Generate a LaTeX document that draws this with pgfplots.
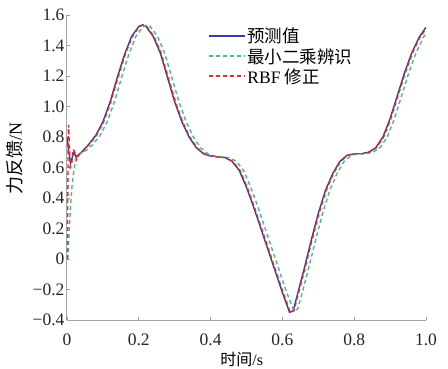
\documentclass[border=0pt]{standalone}
\usepackage{pgfplots}
\pgfplotsset{compat=1.18}
\usepackage{fontspec}
\setmainfont{Liberation Serif}
\newfontfamily\cjk{Noto Sans CJK SC}
\definecolor{predblue}{RGB}{50,60,175}
\definecolor{lsgreen}{RGB}{70,190,130}
\definecolor{rbfred}{RGB}{235,40,40}
\begin{document}
\begin{tikzpicture}
\useasboundingbox (-67pt,-48pt) rectangle (381pt,320pt);
\begin{axis}[
  at={(0pt,0pt)}, anchor=south west,
  scale only axis, width=359pt, height=305pt,
  xmin=0, xmax=1, ymin=-0.4, ymax=1.6,
  axis x line*=bottom, axis y line*=left,
  axis line style={draw=gray!70, line width=1pt},
  tick style={draw=gray!80, line width=0.6pt},
  major tick length=3pt, tick align=inside,
  xtick={0,0.2,0.4,0.6,0.8,1.0},
  xticklabels={0,0.2,0.4,0.6,0.8,1.0},
  ytick={-0.4,-0.2,0,0.2,0.4,0.6,0.8,1.0,1.2,1.4,1.6},
  yticklabels={−0.4,−0.2,0,0.2,0.4,0.6,0.8,1.0,1.2,1.4,1.6},
  ticklabel style={font=\fontsize{17.5}{18}\selectfont, text=black!85},
  xticklabel style={yshift=-10pt},
  yticklabel style={xshift=1pt},
  /pgf/number format/assume math mode=true,
  every axis x label/.style={at={(axis description cs:0.487,-0.13)}, anchor=center},
  every axis y label/.style={at={(axis description cs:-0.145,0.53)}, anchor=center, rotate=90},
  xlabel={\fontsize{16}{17}\selectfont{\cjk 时间}/s},
  ylabel={\fontsize{18}{19}\selectfont{\cjk 力反馈}/N},
  legend style={at={(axis description cs:0.392,0.962)}, anchor=north west, fill=none,
    font=\fontsize{17.5}{18}\selectfont, inner sep=0pt, row sep=1pt,
    nodes={inner sep=1.5pt}},
  legend style={draw=none},
  legend cell align=left,
  legend image code/.code={\path[draw, #1, line width=2pt] (0pt,0.3pt) -- (36pt,0.3pt);},
]
\addplot[predblue, line width=1.4pt] coordinates {
(0.000,0.80) (0.005,0.70) (0.010,0.63) (0.015,0.67) (0.020,0.70) (0.025,0.67) (0.030,0.68)
(0.040,0.70) (0.060,0.75) (0.080,0.81) (0.100,0.90) (0.120,1.03) (0.140,1.19) (0.160,1.34)
(0.180,1.46) (0.200,1.525) (0.210,1.535) (0.220,1.525) (0.240,1.46) (0.260,1.35) (0.280,1.19)
(0.300,1.03) (0.320,0.90) (0.340,0.80) (0.360,0.73) (0.380,0.69) (0.400,0.675) (0.420,0.67)
(0.440,0.665) (0.460,0.64) (0.480,0.58) (0.500,0.47) (0.520,0.34) (0.540,0.20) (0.560,0.06)
(0.580,-0.08) (0.600,-0.22) (0.620,-0.35) (0.630,-0.34) (0.640,-0.25) (0.660,-0.07) (0.680,0.12)
(0.700,0.30) (0.720,0.45) (0.740,0.56) (0.760,0.64) (0.780,0.68) (0.800,0.69) (0.820,0.69)
(0.840,0.70) (0.860,0.73) (0.880,0.80) (0.900,0.92) (0.920,1.07) (0.940,1.22) (0.960,1.35)
(0.980,1.45) (1.000,1.52)
};
\addlegendentry{{\cjk 预测值}}
\addplot[lsgreen, line width=1.4pt, dash pattern=on 4pt off 3pt] coordinates {
(0.002,0.00) (0.006,0.18) (0.010,0.35) (0.014,0.48) (0.018,0.56) (0.022,0.62) (0.027,0.66)
(0.032,0.68) (0.042,0.70) (0.052,0.71) (0.072,0.75) (0.092,0.81) (0.112,0.90) (0.132,1.03)
(0.152,1.19) (0.172,1.34) (0.192,1.46) (0.212,1.525) (0.222,1.535) (0.232,1.525) (0.252,1.46)
(0.272,1.35) (0.292,1.19) (0.312,1.03) (0.332,0.90) (0.352,0.80) (0.372,0.73) (0.392,0.69)
(0.412,0.675) (0.432,0.67) (0.452,0.665) (0.472,0.64) (0.492,0.58) (0.512,0.47) (0.532,0.34)
(0.552,0.20) (0.572,0.06) (0.592,-0.08) (0.612,-0.22) (0.632,-0.34) (0.642,-0.33) (0.652,-0.25)
(0.672,-0.07) (0.692,0.12) (0.712,0.30) (0.732,0.45) (0.752,0.56) (0.772,0.64) (0.792,0.68)
(0.812,0.69) (0.832,0.69) (0.852,0.70) (0.872,0.73) (0.892,0.80) (0.912,0.92) (0.932,1.07)
(0.952,1.22) (0.972,1.35) (0.992,1.45) (1.000,1.48)
};
\addlegendentry{{\cjk 最小二乘辨识}}
\addplot[rbfred, line width=1.4pt, dash pattern=on 4pt off 3pt] coordinates {
(0.001,0.00) (0.002,0.30) (0.003,0.70) (0.004,0.88) (0.006,0.80) (0.009,0.60) (0.013,0.62)
(0.017,0.72) (0.022,0.70) (0.026,0.65) (0.032,0.68) (0.042,0.70) (0.062,0.75) (0.082,0.81)
(0.102,0.90) (0.122,1.03) (0.142,1.19) (0.162,1.34) (0.182,1.46) (0.202,1.525) (0.212,1.535)
(0.222,1.525) (0.242,1.46) (0.262,1.35) (0.282,1.19) (0.302,1.03) (0.322,0.90) (0.342,0.80)
(0.362,0.73) (0.382,0.69) (0.402,0.675) (0.422,0.67) (0.442,0.665) (0.462,0.64) (0.482,0.58)
(0.502,0.47) (0.522,0.34) (0.542,0.20) (0.562,0.06) (0.582,-0.08) (0.602,-0.22) (0.622,-0.35)
(0.632,-0.34) (0.642,-0.25) (0.662,-0.07) (0.682,0.12) (0.702,0.30) (0.722,0.45) (0.742,0.56)
(0.762,0.64) (0.782,0.68) (0.802,0.69) (0.822,0.69) (0.842,0.70) (0.862,0.73) (0.882,0.80)
(0.902,0.92) (0.922,1.07) (0.942,1.22) (0.962,1.35) (0.982,1.45) (1.000,1.51)
};
\addlegendentry{RBF {\cjk 修正}}
\end{axis}
\end{tikzpicture}
\end{document}
